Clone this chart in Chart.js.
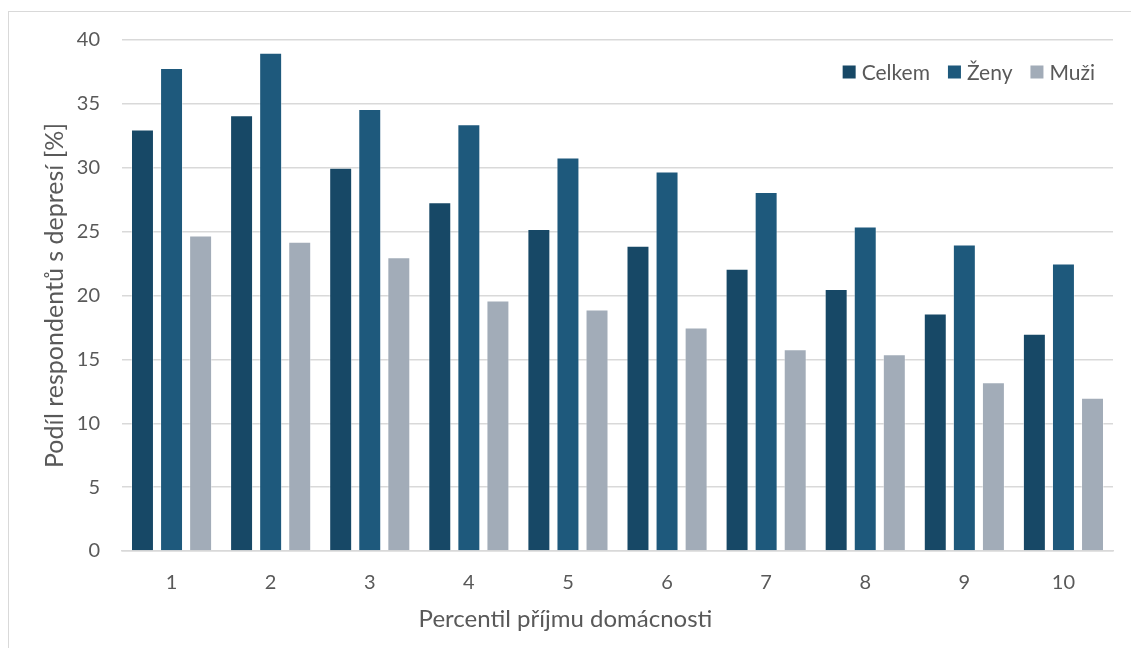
<!DOCTYPE html>
<html lang="cs">
<head>
<meta charset="utf-8">
<title>Podíl respondentů s depresí podle percentilu příjmu</title>
<script src="https://cdn.jsdelivr.net/npm/chart.js@4/dist/chart.umd.min.js"></script>
<style>
  html, body { margin: 0; padding: 0; background: #ffffff; overflow: hidden; }
  #wrap { position: relative; width: 1131px; height: 648px; overflow: hidden; }
  #frame { position: absolute; left: 8px; top: 11px; width: 1140px; height: 700px;
           border: 1px solid #d9d9d9; box-sizing: border-box; pointer-events: none; }
  canvas { position: absolute; left: 0; top: 0; }
</style>
</head>
<body>
<div id="wrap">
  <div id="frame"></div>
  <canvas id="chart" width="1131" height="648"></canvas>
</div>
<script>
// Income percentile groups
const categories = ['1', '2', '3', '4', '5', '6', '7', '8', '9', '10'];

// Share of respondents with depression [%]
const celkem = [33.0, 34.1, 30.0, 27.3, 25.2, 23.9, 22.1, 20.5, 18.6, 17.0];
const zeny   = [37.8, 39.0, 34.6, 33.4, 30.8, 29.7, 28.1, 25.4, 24.0, 22.5];
const muzi   = [24.7, 24.2, 23.0, 19.6, 18.9, 17.5, 15.8, 15.4, 13.2, 12.0];

const seriesNames = ['Celkem', 'Ženy', 'Muži'];
const yTicks = [0, 5, 10, 15, 20, 25, 30, 35, 40];

const textColor = '#595959';
const gridColor = '#d9d9d9';
const fontFamily = 'Lato, "Open Sans", "DejaVu Sans", sans-serif';

const barStyle = {
  borderColor: 'rgba(255,255,255,0.4)',
  borderWidth: 1,
  categoryPercentage: 0.88,
  barPercentage: 0.79
};

// Horizontal legend placed inside the plot area, top right
const insideLegend = {
  id: 'insideLegend',
  afterDraw(chart, args, opts) {
    const ctx = chart.ctx;
    const area = chart.chartArea;
    const box = opts.boxSize, gapText = opts.textGap, gapItem = opts.itemGap;
    ctx.save();
    ctx.font = opts.fontSize + 'px ' + fontFamily;
    ctx.textBaseline = 'middle';
    ctx.textAlign = 'left';
    const items = chart.data.datasets.map(ds => ({
      text: ds.label, color: ds.backgroundColor, w: ctx.measureText(ds.label).width
    }));
    let total = 0;
    items.forEach((it, i) => { total += box + gapText + it.w + (i ? gapItem : 0); });
    let x = area.right - opts.rightInset - total;
    const y = area.top + opts.topOffset;
    items.forEach(it => {
      ctx.fillStyle = it.color;
      ctx.fillRect(x, y - box / 2, box, box);
      x += box + gapText;
      ctx.fillStyle = textColor;
      ctx.fillText(it.text, x, y + 1);
      x += it.w + gapItem;
    });
    ctx.restore();
  }
};

// Bottom band: x-axis title drawn by the title plugin, centred on the whole chart
const xTitleSize = 24;
const xTitleBand = xTitleSize * 1.2 + 14;

new Chart(document.getElementById('chart'), {
  type: 'bar',
  data: {
    labels: categories,
    datasets: [
      Object.assign({ label: seriesNames[0], data: celkem, backgroundColor: '#174866' }, barStyle),
      Object.assign({ label: seriesNames[1], data: zeny,   backgroundColor: '#1e597c' }, barStyle),
      Object.assign({ label: seriesNames[2], data: muzi,   backgroundColor: '#a2acb8' }, barStyle)
    ]
  },
  plugins: [insideLegend],
  options: {
    responsive: false,
    devicePixelRatio: 1,
    animation: false,
    layout: { padding: { left: 18, right: 18, top: 40, bottom: 0 } },
    plugins: {
      tooltip: { enabled: false },
      legend: { display: false },
      title: {
        display: true,
        position: 'bottom',
        text: 'Percentil příjmu domácnosti',
        color: textColor,
        font: { family: fontFamily, size: xTitleSize, weight: 'normal' },
        padding: { top: 0, bottom: 14 }
      },
      insideLegend: { boxSize: 13, textGap: 6, itemGap: 18, fontSize: 21, rightInset: 18, topOffset: 32 }
    },
    scales: {
      x: {
        grid: { display: false, drawTicks: false },
        border: { display: true, color: gridColor, width: 1.5 },
        ticks: { color: textColor, padding: 20, font: { family: fontFamily, size: 20 } },
        afterFit(scale) { scale.height = 97 - xTitleBand; }
      },
      y: {
        min: 0,
        max: 40,
        afterBuildTicks(scale) { scale.ticks = yTicks.map(v => ({ value: v })); },
        grid: { color: gridColor, lineWidth: 1.5, drawTicks: false },
        border: { display: false },
        ticks: { color: textColor, padding: 22, font: { family: fontFamily, size: 20 } },
        title: {
          display: true,
          text: 'Podíl respondentů s depresí [%]',
          color: textColor,
          font: { family: fontFamily, size: 25 },
          padding: { top: 22, bottom: 0 }
        },
        afterFit(scale) { scale.width = 104; }
      }
    }
  }
});
</script>
</body>
</html>
